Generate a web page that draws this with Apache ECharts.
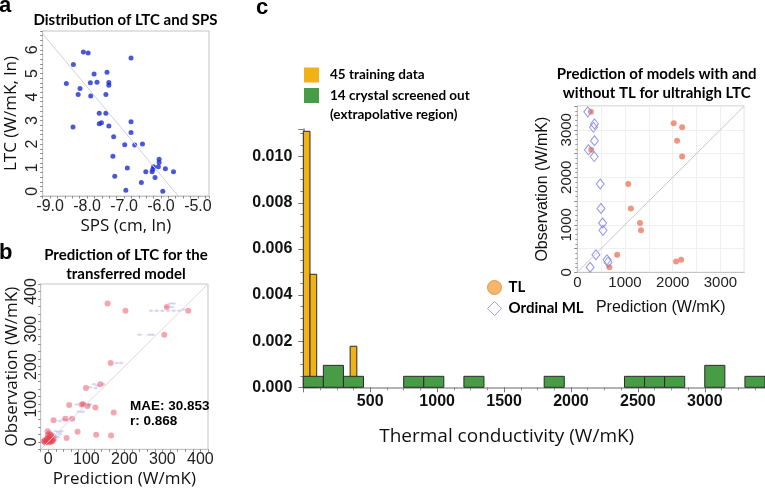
<!DOCTYPE html>
<html><head><meta charset="utf-8">
<script src="https://cdn.jsdelivr.net/npm/echarts@6/dist/echarts.min.js"></script>
<style>html,body{margin:0;padding:0;background:#fff}#c{width:765px;height:490px}</style>
</head><body><div id="c"></div>
<script>
// ---------------- data ----------------
// panel a: [SPS (cm, ln), LTC (W/mK, ln)]
const spsLtcPoints = [
  [-8.10,5.91],[-7.97,5.87],[-6.81,5.65],[-8.37,5.38],[-7.81,4.98],[-7.46,5.05],[-8.56,4.57],
  [-7.91,4.60],[-7.73,4.63],[-7.41,4.62],[-7.41,4.50],[-8.19,4.36],[-8.24,4.11],[-7.90,4.04],
  [-7.49,4.11],[-7.67,3.31],[-7.49,3.31],[-7.67,2.87],[-7.61,2.91],[-7.41,2.77],[-8.38,2.73],
  [-6.81,2.95],[-6.81,2.49],[-7.28,2.31],[-6.98,1.97],[-6.71,1.96],[-6.50,2.01],[-7.30,1.49],
  [-6.05,1.36],[-6.05,1.22],[-6.07,1.04],[-6.20,1.04],[-6.24,0.83],[-6.41,0.83],[-5.88,0.96],
  [-5.66,0.83],[-6.16,0.59],[-6.91,0.99],[-7.25,0.64],[-6.95,0.04],[-6.53,0.37],[-5.95,0.00],
  [-6.22,0.94]
];
const spsLtcTrend = [[-9.2,6.68],[-5.53,-0.2]];

// panel b: [prediction, observation]
const transferTL = [
  [156,368],[203,349],[312,359],[368,349],[305,285],[164,210],[137,153],[99,143],[55,98],
  [88,99],[92,100],[103,95],[124,91],[172,78],[14,57],[45,61],[63,61],[77,27],[-2,28],
  [126,19],[165,17],[48,10],[-1,18],[6,18],[3,22],
  [-12,2],[-8,4],[-5,0],[-3,3],[0,1],[2,5],[5,2],[8,0],[10,4],[-10,0],[-6,-2],[3,-1],
  [12,2],[-4,6],[1,8],[4,12],[7,6],[-2,10],[9,14],[14,9]
];
const transferBase = [
  [240,285],[265,285],[275,285],[320,368],[330,368],[310,359],[325,359],[270,349],[285,349],
  [300,349],[315,349],[330,349],[345,349],[355,352],[180,210],[192,210],[120,153],[130,150],
  [145,153],[110,145],[125,143],[75,99],[95,99],[105,97],[110,99],[80,80],[90,80],[40,60],
  [50,58],[60,62],[30,55],[20,28],[28,26],[35,28],[10,22],[15,18],[20,15],[5,12],[12,10],
  [0,6],[8,4],[18,5],[-5,3],[25,12],[30,20]
];
const identityB = [[-20,-20],[420,420]];

// panel c histogram: [bin start, bin end, density]
const trainingBins = [[0,50,0.0111],[50,100,0.0049],[350,400,0.00178]];
const crystalBins = [
  [0,150,0.000476],[150,300,0.000952],[300,450,0.000476],[750,900,0.000476],
  [900,1050,0.000476],[1200,1350,0.000476],[1800,1950,0.000476],[2400,2550,0.000476],
  [2550,2700,0.000476],[2700,2850,0.000476],[3000,3150,0.000952],[3300,3450,0.000476]
];

// panel c inset: [prediction, observation]
const tlPoints = [
  [284,3377],[2021,3136],[2197,3051],[2091,2769],[290,2578],[2197,2436],[1068,1858],
  [1123,1343],[1314,1038],[1335,883],[835,369],[2176,263],[2070,227],[672,106]
];
const ordinalPoints = [
  [220,3377],[360,3123],[339,3051],[360,2769],[233,2578],[354,2436],[481,1858],
  [496,1343],[530,1038],[538,883],[390,369],[623,263],[644,212],[269,106]
];
const identityInset = [[0,0],[3500,3500]];

// ---------------- chart ----------------
const YELLOW = '#f0b216', GREEN = '#479c45';
const chart = echarts.init(document.getElementById('c'), null, {renderer: 'canvas'});

function isMult(v, m) { const r = v / m; return Math.abs(r - Math.round(r)) < 1e-6; }
function barRender(fill) {
  return function (params, api) {
    const a = api.coord([api.value(0), api.value(2)]);
    const b = api.coord([api.value(1), 0]);
    return {type: 'rect', shape: {x: a[0], y: a[1], width: b[0] - a[0], height: b[1] - a[1]},
      style: {fill: fill, stroke: '#2b2b2b', lineWidth: 1}};
  };
}
const tickFont = {fontFamily: 'Liberation Sans', fontSize: 16, color: '#222'};
const nameFont = {fontFamily: 'Open Sans', fontSize: 17, lineHeight: 20, color: '#111'};
const frame = '#c4c4c4';

const option = {
  animation: false,
  backgroundColor: '#fff',
  title: [
    {text: 'a', left: -1, top: -5, padding: 0, textStyle: {fontFamily: 'Liberation Sans', fontWeight: 'bold', fontSize: 22, lineHeight: 22, color: '#000'}},
    {text: 'b', left: -1, top: 242, padding: 0, textStyle: {fontFamily: 'Liberation Sans', fontWeight: 'bold', fontSize: 22, lineHeight: 22, color: '#000'}},
    {text: 'c', left: 256, top: -3, padding: 0, textStyle: {fontFamily: 'Liberation Sans', fontWeight: 'bold', fontSize: 22, lineHeight: 22, color: '#000'}},
    {text: 'Distribution of LTC and SPS', left: 125.5, textAlign: 'center', top: 11, padding: 0,
      textStyle: {fontFamily: 'Lato', fontWeight: 'bold', fontSize: 15, lineHeight: 18, color: '#000'}},
    {text: 'Prediction of LTC for the\ntransferred model', left: 126, textAlign: 'center', top: 245.3, padding: 0,
      textStyle: {fontFamily: 'Lato', fontWeight: 'bold', fontSize: 15, lineHeight: 19.3, color: '#000'}},
    {text: 'Prediction of models with and\nwithout TL for ultrahigh LTC', left: 656.7, textAlign: 'center', top: 64.7, padding: 0,
      textStyle: {fontFamily: 'Lato', fontWeight: 'bold', fontSize: 15, lineHeight: 18.7, color: '#000'}},
    {text: 'MAE: 30.853\nr: 0.868', left: 130, top: 398, padding: 0,
      textStyle: {fontFamily: 'Liberation Sans', fontWeight: 'bold', fontSize: 13.5, lineHeight: 15.7, color: '#000'}},
    {text: '(extrapolative region)', left: 330, top: 107, padding: 0,
      textStyle: {fontFamily: 'Lato', fontWeight: 'bold', fontSize: 13.5, lineHeight: 16, color: '#000'}},
    {text: 'Thermal conductivity (W/mK)', left: 506.7, textAlign: 'center', top: 425, padding: 0,
      textStyle: {fontFamily: 'Open Sans', fontWeight: 'normal', fontSize: 19, lineHeight: 23, color: '#111'}}
  ],
  legend: [
    {left: 304, top: 67.5, orient: 'vertical', padding: 0, itemWidth: 15, itemHeight: 15, itemGap: 5.5,
      selectedMode: false, icon: 'rect',
      data: [{name: '45 training data', itemStyle: {color: YELLOW, borderWidth: 0}},
             {name: '14 crystal screened out', itemStyle: {color: GREEN, borderWidth: 0}}],
      textStyle: {fontFamily: 'Lato', fontWeight: 'bold', fontSize: 13.5, lineHeight: 15, color: '#000', padding: [0, 0, 0, 6]}},
    {left: 487, top: 280, orient: 'vertical', padding: 0, itemWidth: 14, itemHeight: 14, itemGap: 6,
      selectedMode: false,
      data: [{name: 'TL', icon: 'circle', itemStyle: {color: '#f5a24a', borderColor: '#d98a30', borderWidth: 1}},
             {name: 'Ordinal ML', icon: 'diamond', itemStyle: {color: 'rgba(255,255,255,0)', borderColor: '#8a8ae6', borderWidth: 1}}],
      textStyle: {fontFamily: 'Lato', fontWeight: 'bold', fontSize: 15, lineHeight: 14, color: '#000', padding: [0, 0, 0, 2]}}
  ],
  grid: [
    {left: 41.7, top: 31, width: 167.3, height: 165, show: true, borderColor: frame, borderWidth: 1, backgroundColor: 'transparent'},
    {left: 40.7, top: 284, width: 167.3, height: 168, show: true, borderColor: frame, borderWidth: 1, backgroundColor: 'transparent'},
    {left: 303.3, top: 129, width: 468, height: 258.3},
    {left: 577.3, top: 106, width: 167, height: 166.3, show: true, borderColor: frame, borderWidth: 1, backgroundColor: 'transparent'}
  ],
  xAxis: [
    {gridIndex: 0, type: 'value', min: -9.2, max: -4.7, interval: 0.2,
      axisLine: {show: true, onZero: false, lineStyle: {color: frame}},
      axisTick: {show: true, length: 2.5, lineStyle: {color: '#888'}},
      axisLabel: Object.assign({margin: 3, formatter: v => isMult(v, 1) ? v.toFixed(1) : ''}, tickFont),
      splitLine: {show: false},
      name: 'SPS (cm, ln)', nameLocation: 'middle', nameGap: 19.7, nameTextStyle: nameFont},
    {gridIndex: 1, type: 'value', min: -20, max: 420, interval: 20,
      axisLine: {show: true, onZero: false, lineStyle: {color: frame}},
      axisTick: {show: true, length: 2.5, lineStyle: {color: '#888'}},
      axisLabel: Object.assign({margin: 2, formatter: v => isMult(v, 100) ? String(v) : ''}, tickFont),
      splitLine: {show: false},
      name: 'Prediction (W/mK)', nameLocation: 'middle', nameGap: 19.7, nameTextStyle: nameFont},
    {gridIndex: 2, type: 'value', min: 0, max: 3450, interval: 500,
      axisLine: {show: true, onZero: false, lineStyle: {color: '#9a9a9a', width: 1.5}},
      axisTick: {show: true, length: 5, lineStyle: {color: '#777'}},
      minorTick: {show: true, splitNumber: 4, length: 3, lineStyle: {color: '#888'}},
      axisLabel: {showMinLabel: false, showMaxLabel: false, margin: 6, fontFamily: 'Liberation Sans', fontWeight: 'bold', fontSize: 16, color: '#111',
        formatter: v => String(v)},
      splitLine: {show: false}},
    {gridIndex: 3, type: 'value', min: 0, max: 3500, interval: 500,
      axisLine: {show: true, onZero: false, lineStyle: {color: frame}},
      axisTick: {show: false},
      axisLabel: {margin: 3.5, fontFamily: 'Liberation Sans', fontSize: 15, color: '#222', formatter: v => isMult(v, 1000) ? String(v) : ''},
      splitLine: {show: true, lineStyle: {color: '#efefef'}},
      name: 'Prediction (W/mK)', nameLocation: 'middle', nameGap: 26,
      nameTextStyle: {fontFamily: 'Liberation Sans', fontSize: 16, lineHeight: 18, color: '#111'}}
  ],
  yAxis: [
    {gridIndex: 0, type: 'value', min: -0.2, max: 6.8, interval: 0.2,
      axisLine: {show: true, onZero: false, lineStyle: {color: frame}},
      axisTick: {show: true, length: 2.5, lineStyle: {color: '#888'}},
      axisLabel: Object.assign({margin: 2, rotate: 90, formatter: v => isMult(v, 1) ? String(Math.round(v)) : ''}, tickFont),
      splitLine: {show: false},
      name: 'LTC (W/mK, ln)', nameLocation: 'middle', nameGap: 21.7, nameTextStyle: nameFont},
    {gridIndex: 1, type: 'value', min: -20, max: 420, interval: 20,
      axisLine: {show: true, onZero: false, lineStyle: {color: frame}},
      axisTick: {show: true, length: 2.5, lineStyle: {color: '#888'}},
      axisLabel: Object.assign({margin: 1, rotate: 90, formatter: v => isMult(v, 100) ? String(v) : ''}, tickFont),
      splitLine: {show: false},
      name: 'Observation (W/mK)', nameLocation: 'middle', nameGap: 18.7, nameTextStyle: nameFont},
    {gridIndex: 2, type: 'value', min: 0, max: 0.0112, interval: 0.002,
      axisLine: {show: true, onZero: false, lineStyle: {color: '#777', width: 1.5}},
      axisTick: {show: true, length: 5, lineStyle: {color: '#777'}},
      minorTick: {show: true, splitNumber: 4, length: 3, lineStyle: {color: '#888'}},
      axisLabel: {showMaxLabel: false, margin: 11, fontFamily: 'Liberation Sans', fontWeight: 'bold', fontSize: 16, color: '#111',
        formatter: v => v.toFixed(3)},
      splitLine: {show: false}},
    {gridIndex: 3, type: 'value', min: 0, max: 3500, interval: 500,
      axisLine: {show: true, onZero: false, lineStyle: {color: frame}},
      axisTick: {show: true, length: 3, lineStyle: {color: '#888'}},
      minorTick: {show: true, splitNumber: 5, length: 2, lineStyle: {color: '#999'}},
      axisLabel: {margin: 3, rotate: 90, fontFamily: 'Liberation Sans', fontSize: 15, color: '#222', formatter: v => isMult(v, 1000) ? String(v) : ''},
      splitLine: {show: true, lineStyle: {color: '#efefef'}},
      name: 'Observation (W/mK)', nameLocation: 'middle', nameGap: 25.3,
      nameTextStyle: {fontFamily: 'Liberation Sans', fontSize: 16, lineHeight: 18, color: '#111'}}
  ],
  series: [
    {type: 'line', xAxisIndex: 0, yAxisIndex: 0, data: spsLtcTrend, symbol: 'none', silent: true,
      lineStyle: {color: '#cfcfdf', width: 1}},
    {type: 'scatter', xAxisIndex: 0, yAxisIndex: 0, data: spsLtcPoints, symbolSize: 5,
      itemStyle: {color: '#1b2ed0'}},
    {type: 'line', xAxisIndex: 1, yAxisIndex: 1, data: identityB, symbol: 'none', silent: true,
      lineStyle: {color: '#e2d4dc', width: 1}},
    {type: 'scatter', xAxisIndex: 1, yAxisIndex: 1, data: transferBase, symbol: 'diamond', symbolSize: [6, 3],
      itemStyle: {color: 'rgba(110,120,215,0.35)'}},
    {type: 'scatter', xAxisIndex: 1, yAxisIndex: 1, data: transferTL, symbolSize: 6,
      itemStyle: {color: 'rgba(232,70,85,0.6)'}},
    {type: 'custom', name: '45 training data', xAxisIndex: 2, yAxisIndex: 2, data: trainingBins,
      encode: {x: [0, 1], y: 2}, renderItem: barRender(YELLOW), itemStyle: {color: YELLOW}},
    {type: 'custom', name: '14 crystal screened out', xAxisIndex: 2, yAxisIndex: 2, data: crystalBins,
      encode: {x: [0, 1], y: 2}, renderItem: barRender(GREEN), itemStyle: {color: GREEN}},
    {type: 'line', xAxisIndex: 3, yAxisIndex: 3, data: identityInset, symbol: 'none', silent: true,
      lineStyle: {color: '#c8c8c8', width: 1}},
    {type: 'scatter', name: 'TL', xAxisIndex: 3, yAxisIndex: 3, data: tlPoints, symbolSize: 6,
      itemStyle: {color: '#ee7a64'}},
    {type: 'scatter', name: 'Ordinal ML', xAxisIndex: 3, yAxisIndex: 3, data: ordinalPoints,
      symbol: 'diamond', symbolSize: [8, 10],
      itemStyle: {color: 'rgba(255,255,255,0)', borderColor: '#7a7ae8', borderWidth: 1}}
  ]
};
chart.setOption(option);
</script>
</body></html>
